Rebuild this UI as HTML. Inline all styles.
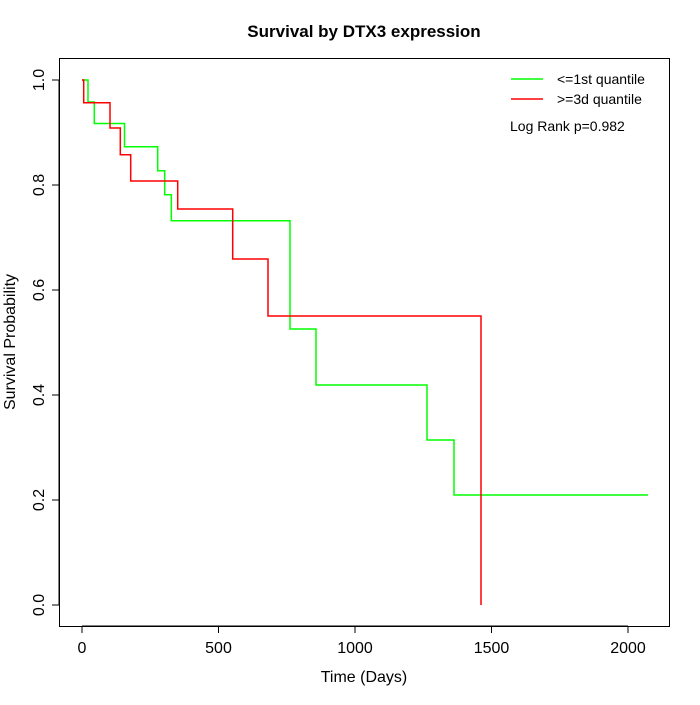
<!DOCTYPE html>
<html><head><style>body{margin:0;background:#fff}</style></head><body>
<svg width="700" height="700" xmlns="http://www.w3.org/2000/svg" font-family="Liberation Sans, sans-serif">
<rect width="700" height="700" fill="#fff"/>
<text x="364" y="37" font-size="17" font-weight="bold" text-anchor="middle">Survival by DTX3 expression</text>
<rect x="59.5" y="58.5" width="610" height="568" fill="none" stroke="#000"/>
<g stroke="#000">
<line x1="82" y1="626" x2="628" y2="626"/>
<line x1="82" y1="626" x2="82" y2="633"/><line x1="218.5" y1="626" x2="218.5" y2="633"/><line x1="355" y1="626" x2="355" y2="633"/><line x1="491.5" y1="626" x2="491.5" y2="633"/><line x1="628" y1="626" x2="628" y2="633"/>
<line x1="59" y1="80" x2="59" y2="605"/>
<line x1="52" y1="605" x2="59" y2="605"/><line x1="52" y1="500" x2="59" y2="500"/><line x1="52" y1="395" x2="59" y2="395"/><line x1="52" y1="290" x2="59" y2="290"/><line x1="52" y1="185" x2="59" y2="185"/><line x1="52" y1="80" x2="59" y2="80"/>
</g>
<g font-size="16" text-anchor="middle">
<text x="82" y="653">0</text><text x="218.5" y="653">500</text><text x="355" y="653">1000</text><text x="491.5" y="653">1500</text><text x="628" y="653">2000</text>
<text x="364" y="682">Time (Days)</text>
<g transform="rotate(-90)">
<text x="-605" y="44">0.0</text><text x="-500" y="44">0.2</text><text x="-395" y="44">0.4</text><text x="-290" y="44">0.6</text><text x="-185" y="44">0.8</text><text x="-80" y="44">1.0</text>
<text x="-342" y="15">Survival Probability</text>
</g></g>
<polyline fill="none" stroke="#00ff00" stroke-width="1.5" points="82,80 88,80 88,102 94.3,102 94.3,123.5 124.5,123.5 124.5,146.7 157.7,146.7 157.7,170.7 164.7,170.7 164.7,194.7 171.3,194.7 171.3,220.7 290,220.7 290,329 316,329 316,385 427,385 427,440 454,440 454,495 648,495"/>
<polyline fill="none" stroke="#ff0000" stroke-width="1.5" points="82,80 83.7,80 83.7,102.7 110,102.7 110,128 120.3,128 120.3,154.7 130.7,154.7 130.7,181 177.7,181 177.7,209 232.7,209 232.7,259 268,259 268,316 481,316 481,605"/>
<line x1="511" y1="79" x2="543" y2="79" stroke="#00ff00" stroke-width="1.5"/>
<line x1="511" y1="99" x2="543" y2="99" stroke="#ff0000" stroke-width="1.5"/>
<g font-size="14"><text x="557" y="84">&lt;=1st quantile</text><text x="557" y="104">&gt;=3d quantile</text><text x="510" y="131">Log Rank p=0.982</text></g>
</svg>
</body></html>
